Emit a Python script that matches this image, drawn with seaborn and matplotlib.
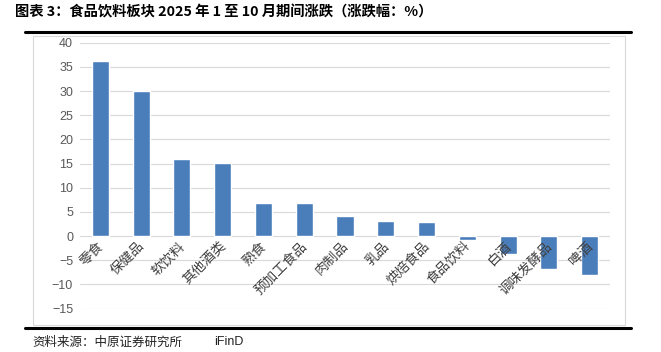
import matplotlib
matplotlib.use("Agg")
import matplotlib.pyplot as plt
import seaborn as sns
import pandas as pd
from matplotlib.lines import Line2D
from matplotlib.patches import Rectangle

categories = ["零食", "保健品", "软饮料", "其他酒类", "熟食", "预加工食品", "肉制品",
              "乳品", "烘焙食品", "食品饮料", "白酒", "调味发酵品", "啤酒"]
values = [36.3, 30.0, 16.0, 15.2, 6.9, 6.8, 4.2, 3.2, 3.0, -0.8, -3.8, -6.8, -8.1]
yticks = list(range(-15, 45, 5))

sns.set_theme(style="white")
plt.rcParams['font.family'] = ['Noto Sans CJK SC', 'DejaVu Sans']

df = pd.DataFrame({"cat": categories, "val": values})

fig = plt.figure(figsize=(6.61, 3.52), dpi=100)
ax = fig.add_axes([80/661, 1-308.5/352, 530/661, (308.5-42.7)/352])

sns.barplot(data=df, x="cat", y="val", color="#4A7EBB", width=0.42,
            saturation=1, ax=ax, zorder=3)
ax.set_ylim(-15, 40)
ax.set_xlim(-0.5, len(categories) - 0.5)
ax.set_yticks(yticks)
ax.set_yticklabels([str(t) if t >= 0 else "\u2212" + str(-t) for t in yticks],
                   fontfamily="Liberation Sans", fontsize=9, color="#595959")
ax.tick_params(axis='y', length=0, pad=5)
ax.set_xticks([])
ax.set_xlabel("")
ax.set_ylabel("")
ax.grid(axis='y', color="#D9D9D9", linewidth=0.8, zorder=0)
for s in ax.spines.values():
    s.set_visible(False)

for i, c in enumerate(categories):
    ax.text(i - 0.1, -0.6, c, rotation=45, ha='right', va='top',
            rotation_mode='anchor', fontsize=9.8, color="#404040", zorder=4)

# chart frame
fig.add_artist(Rectangle((33/661, 1-325/352), (625-33)/661, (325-36)/352,
                         transform=fig.transFigure, fill=False,
                         edgecolor="#D9D9D9", linewidth=0.8))
# heavy lines
fig.add_artist(Line2D([25/661, 631/661], [1-32/352, 1-32/352],
                      transform=fig.transFigure, color="black", linewidth=2.2))
fig.add_artist(Line2D([25/661, 631/661], [1-328/352, 1-328/352],
                      transform=fig.transFigure, color="black", linewidth=2.2))

fig.text(15/661, 1-12/352, "图表 3：食品饮料板块 2025 年 1 至 10 月期间涨跌（涨跌幅：%）",
         fontsize=10.3, fontweight='bold', ha='left', va='center', color="black")
fig.text(32/661, 1-342/352, "资料来源：中原证券研究所", fontsize=9,
         ha='left', va='center', color="#222222")
fig.text(214/661, 1-342/352, "iFinD", fontsize=9, fontfamily="Liberation Sans",
         ha='left', va='center', color="#222222")

fig.savefig("out.png", dpi=100)
